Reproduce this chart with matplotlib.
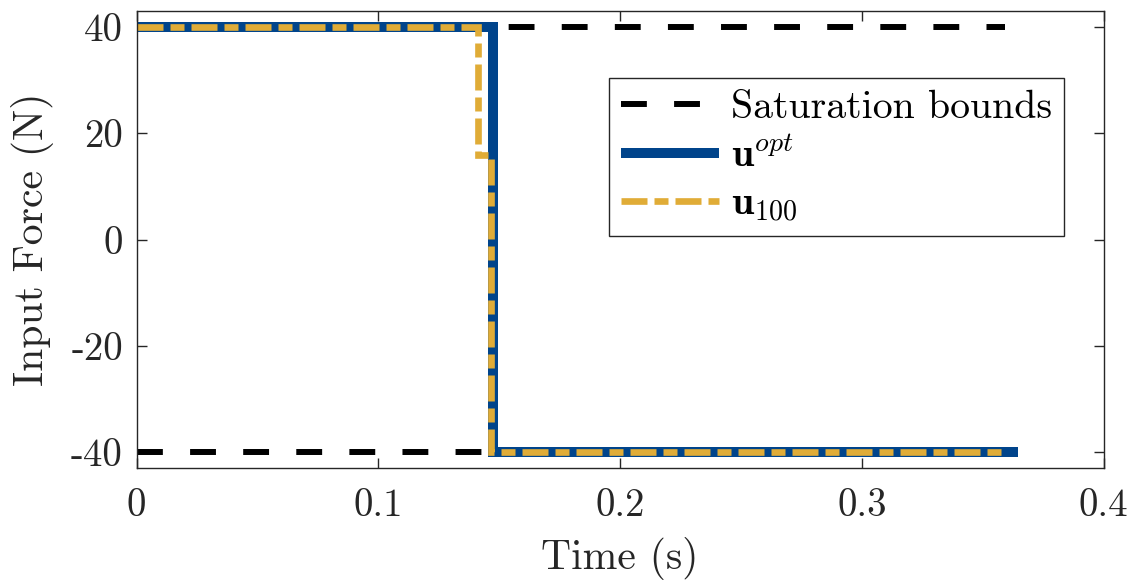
import numpy as np
import matplotlib
matplotlib.use("Agg")
import matplotlib.pyplot as plt

# data
t_bounds = [0.0, 0.3592]
u_max = [40, 40]
u_min = [-40, -40]

t_opt = [0.0, 0.1472, 0.1472, 0.3645]
u_opt = [40, 40, -40, -40]

t_100 = [0.0, 0.141, 0.141, 0.1466, 0.1466, 0.36]
u_100 = [40, 40, 16, 16, -40, -40]

x_ticks = [0, 0.1, 0.2, 0.3, 0.4]
x_labels = ["0", "0.1", "0.2", "0.3", "0.4"]
y_ticks = [-40, -20, 0, 20, 40]
y_labels = ["-40", "-20", "0", "20", "40"]

#style, MATLAB-like with computer modern
plt.rcParams["font.family"] = "cmr10"
plt.rcParams["mathtext.fontset"] = "cm"
plt.rcParams["axes.unicode_minus"] = False
ink = "#262626"
blue = "#00448B"
yellow = "#E0AC37"

fig = plt.figure(figsize=(11.35, 5.83), dpi=100)
ax = fig.add_axes([0.1204, 0.1968, 0.8520, 0.7843])

ax.plot(t_bounds, u_max, color="black", lw=4.3, dashes=(4.33, 4.56), dash_capstyle="butt",
        label="Saturation bounds")
ax.plot(t_bounds, u_min, color="black", lw=4.3, dashes=(4.33, 4.56), dash_capstyle="butt")
ax.plot(t_opt, u_opt, color=blue, lw=7.2, solid_capstyle="butt", solid_joinstyle="miter",
        label=r"$\mathbf{u}^{opt}$")
ax.plot(t_100, u_100, color=yellow, lw=4.8, dashes=(3.9, 1.05, 2.1, 1.05), dash_capstyle="butt",
        dash_joinstyle="miter", label=r"$\mathbf{u}_{100}$")

ax.set_xlim(0, 0.4)
ax.set_ylim(-43, 43)
ax.set_xticks(x_ticks)
ax.set_xticklabels(x_labels)
ax.set_yticks(y_ticks)
ax.set_yticklabels(y_labels)
ax.tick_params(direction="in", length=7, width=1, colors=ink, labelsize=28,
               top=True, right=True, pad=10)
ax.tick_params(axis="x", pad=14)
for s in ax.spines.values():
    s.set_color(ink)
    s.set_linewidth(1.0)

ax.set_xlabel("Time (s)", fontsize=30, color=ink, labelpad=10)
ax.set_ylabel("Input Force (N)", fontsize=30, color=ink, labelpad=12)

leg = ax.legend(loc="upper right", bbox_to_anchor=(0.959, 0.8535), borderaxespad=0,
                fontsize=28.7, handlelength=2.45, handletextpad=0.3, labelspacing=0.3,
                borderpad=0.3, fancybox=False, framealpha=1)
leg.get_frame().set_edgecolor(ink)
leg.get_frame().set_linewidth(1.0)
for txt in leg.get_texts():
    txt.set_color("black")

fig.savefig("out.png", dpi=100)
